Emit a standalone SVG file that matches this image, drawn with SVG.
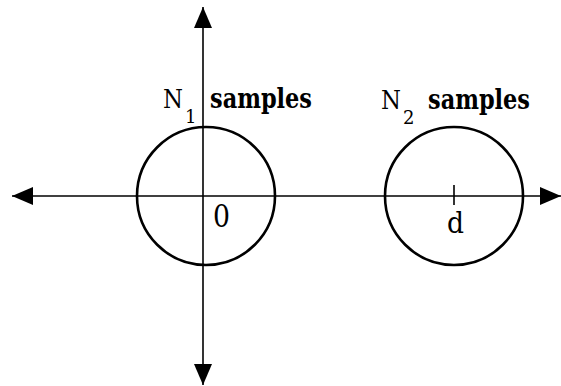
<svg xmlns="http://www.w3.org/2000/svg" width="561" height="386" viewBox="0 0 561 386">
<style>
.ax{stroke:#000;stroke-width:1.6;fill:none}
.c{stroke:#000;stroke-width:2.6;fill:none}
.t{font-family:'DejaVu Serif',serif;fill:#000}
.b{font-weight:bold}
</style>
<defs>
<marker id="ah" markerWidth="22" markerHeight="18" refX="21" refY="9" orient="auto" markerUnits="userSpaceOnUse">
<path d="M0,0 L21,9 L0,18 Z" fill="#000"/>
</marker>
</defs>
<rect width="561" height="386" fill="#fff"/>
<g id="connectors">
<line class="ax" x1="203" y1="196" x2="203" y2="7" marker-end="url(#ah)"/>
<line class="ax" x1="203" y1="196" x2="203" y2="385" marker-end="url(#ah)"/>
<line class="ax" x1="203" y1="196" x2="12" y2="196" marker-end="url(#ah)"/>
<line class="ax" x1="203" y1="196" x2="561" y2="196" marker-end="url(#ah)"/>
<line class="ax" x1="454" y1="185" x2="454" y2="205"/>
</g>
<g id="cluster1">
<circle class="c" cx="206" cy="196" r="69"/>
<text class="t" x="163" y="108" font-size="26" textLength="20" lengthAdjust="spacingAndGlyphs">N</text>
<text class="t" x="185" y="123" font-size="18">1</text>
<text class="t b" x="210" y="108" font-size="27" textLength="102" lengthAdjust="spacingAndGlyphs">samples</text>
<text class="t" x="213" y="227" font-size="31" textLength="17" lengthAdjust="spacingAndGlyphs">0</text>
</g>
<g id="cluster2">
<circle class="c" cx="454" cy="196" r="69"/>
<text class="t" x="381" y="109" font-size="26" textLength="20" lengthAdjust="spacingAndGlyphs">N</text>
<text class="t" x="403" y="124" font-size="18">2</text>
<text class="t b" x="428" y="109" font-size="27" textLength="102" lengthAdjust="spacingAndGlyphs">samples</text>
<text class="t" x="447" y="233" font-size="29" textLength="17" lengthAdjust="spacingAndGlyphs">d</text>
</g>
</svg>
